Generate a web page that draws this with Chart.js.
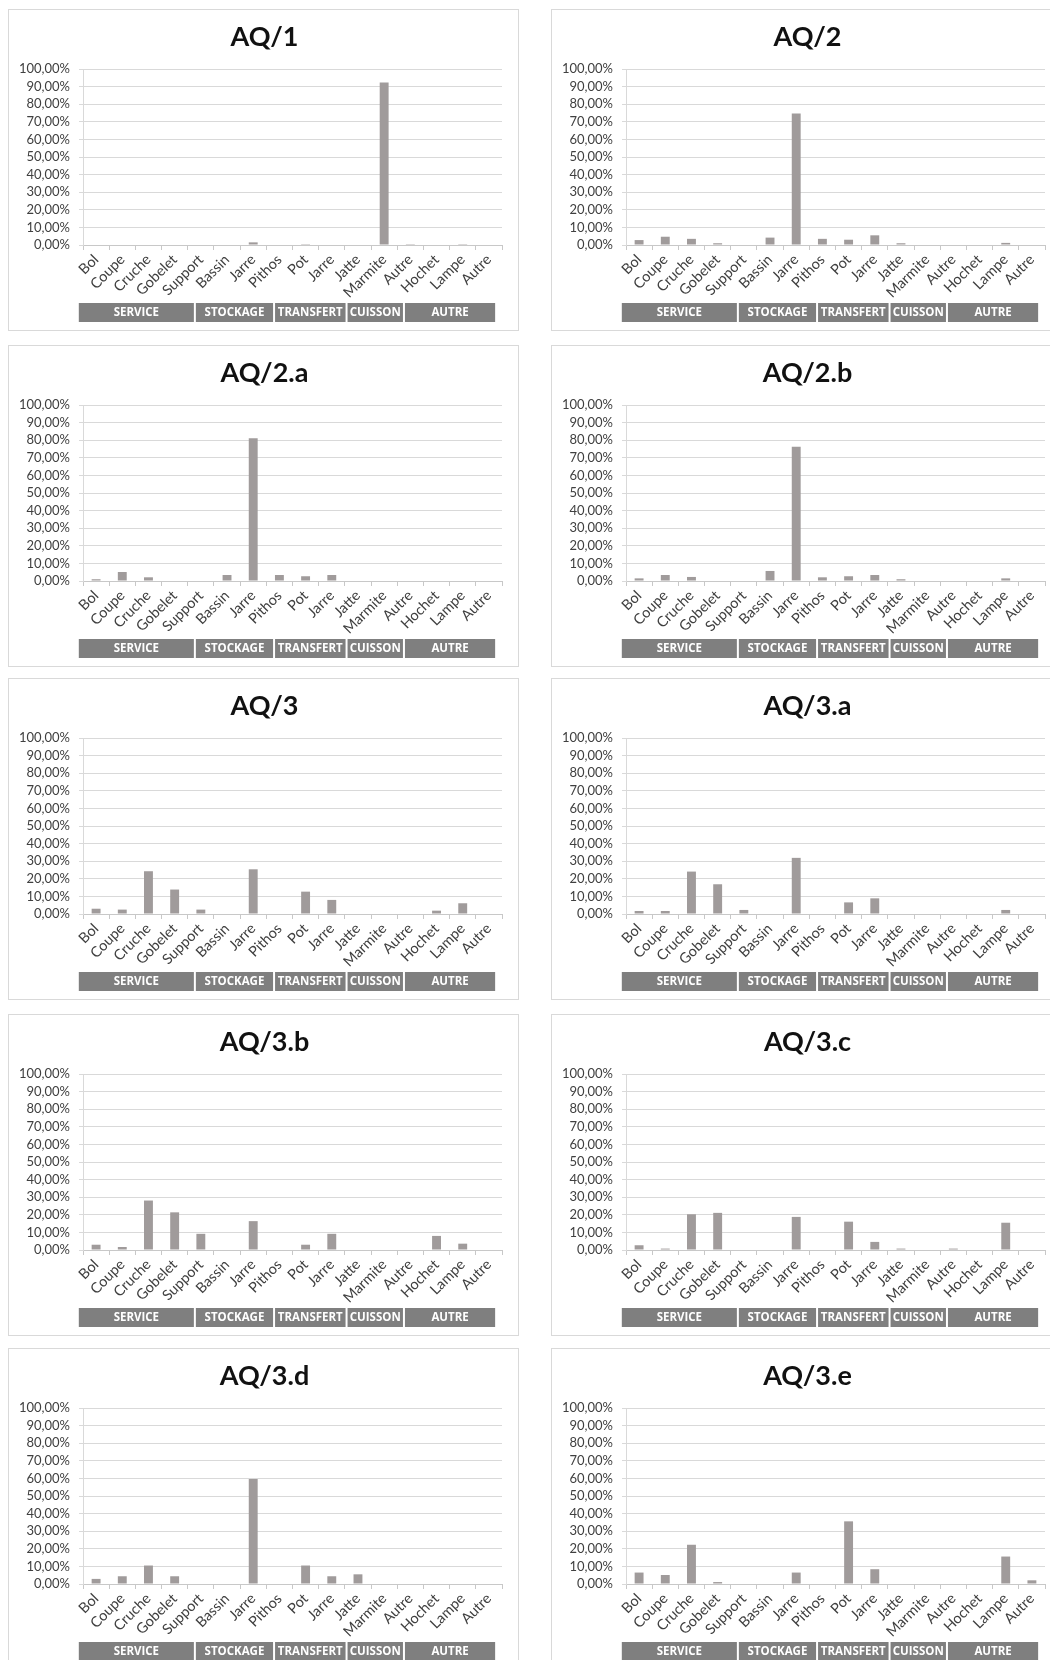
<!DOCTYPE html>
<html>
<head>
<meta charset="utf-8">
<script src="https://cdn.jsdelivr.net/npm/chart.js@4"></script>
<style>
    body { margin: 0; background: #fff; width: 1050px; height: 1660px; overflow: hidden; position: relative; }
    .panel { position: absolute; border: 1px solid #d9d9d9; background: #fff; }
    .panel canvas { display: block; }
</style>
</head>
<body>
<script>
// categories and groups (same for every panel)
const categories = ['Bol', 'Coupe', 'Cruche', 'Gobelet', 'Support', 'Bassin', 'Jarre', 'Pithos', 'Pot', 'Jarre', 'Jatte', 'Marmite', 'Autre', 'Hochet', 'Lampe', 'Autre'];
const groupLabels = ['SERVICE', 'STOCKAGE', 'TRANSFERT', 'CUISSON', 'AUTRE'];
const yTickLabels = ['0,00%', '10,00%', '20,00%', '30,00%', '40,00%', '50,00%', '60,00%', '70,00%', '80,00%', '90,00%', '100,00%'];

const titles = ['AQ/1', 'AQ/2', 'AQ/2.a', 'AQ/2.b', 'AQ/3', 'AQ/3.a', 'AQ/3.b', 'AQ/3.c', 'AQ/3.d', 'AQ/3.e'];

// values in %
const aq1  = [0, 0, 0, 0, 0, 0, 1.5, 0, 0.5, 0, 0, 92.4, 0.5, 0, 0.5, 0];
const aq2  = [2.8, 4.7, 3.5, 1.0, 0, 4.2, 74.7, 3.5, 3.0, 5.5, 1.0, 0, 0, 0, 1.2, 0];
const aq2a = [1.0, 5.1, 2.1, 0, 0, 3.4, 81.1, 3.4, 2.7, 3.4, 0, 0, 0, 0, 0, 0];
const aq2b = [1.5, 3.4, 2.3, 0, 0, 5.7, 76.3, 2.1, 2.7, 3.4, 1.0, 0, 0, 0, 1.5, 0];
const aq3  = [3.0, 2.5, 24.3, 13.9, 2.5, 0, 25.4, 0, 12.7, 8.0, 0, 0, 0, 1.9, 6.1, 0];
const aq3a = [1.7, 1.7, 24.1, 16.9, 2.3, 0, 31.9, 0, 6.6, 8.9, 0, 0, 0, 0, 2.3, 0];
const aq3b = [3.0, 1.7, 28.1, 21.4, 9.2, 0, 16.4, 0, 3.0, 9.2, 0, 0, 0, 8.0, 3.6, 0];
const aq3c = [2.7, 0.8, 20.3, 21.1, 0, 0, 18.8, 0, 16.1, 4.6, 0.8, 0, 0.8, 0, 15.5, 0];
const aq3d = [2.9, 4.4, 10.5, 4.4, 0, 0, 59.6, 0, 10.5, 4.4, 5.5, 0, 0, 0, 0, 0];
const aq3e = [6.5, 5.1, 22.3, 1.1, 0, 0, 6.5, 0, 35.6, 8.4, 0, 0, 0, 0, 15.6, 2.1];

const seriesList = [aq1, aq2, aq2a, aq2b, aq3, aq3a, aq3b, aq3c, aq3d, aq3e];

//---------------------------------------------------------------------------------------------------------------------------------------
// LAYOUT

const PANEL_W = 511;
const PANEL_H = 322;
const COL_X = [8, 551];
const ROW_Y = [9, 345, 678, 1014, 1348];
const BAND_TOP = 293;
const BAND_H = 19;
// group band edges, as fractions of the plot width
const BAND_EDGES = [-0.01, 0.267, 0.456, 0.629, 0.766, 0.986];

const BAR_COLOR = '#a09b9b';
const TEXT_COLOR = '#404040';

// draws the title and the grey group band under the labels
const panelDecor = {
    id: 'panelDecor',
    afterDraw(chart, args, opts) {
        const { ctx, chartArea } = chart;
        const w = chartArea.right - chartArea.left;
        ctx.save();

        ctx.fillStyle = '#111';
        ctx.font = 'bold 27px Lato';
        ctx.textAlign = 'center';
        ctx.textBaseline = 'middle';
        ctx.fillText(opts.title, chart.width / 2 + 1, 27);

        groupLabels.forEach((label, i) => {
            const x0 = chartArea.left + BAND_EDGES[i] * w + (i ? 1 : 0);
            const x1 = chartArea.left + BAND_EDGES[i + 1] * w - 1;
            ctx.fillStyle = '#7f7f7f';
            ctx.fillRect(x0, BAND_TOP, x1 - x0, BAND_H);
            ctx.fillStyle = '#fff';
            ctx.font = 'bold 11.5px "Open Sans"';
            ctx.fillText(label, (x0 + x1) / 2, BAND_TOP + BAND_H / 2 + 0.5);
        });
        ctx.restore();
    }
};

function createPanel(index) {
    const col = index % 2;
    const row = Math.floor(index / 2);

    const div = document.createElement('div');
    div.className = 'panel';
    div.style.left = COL_X[col] + 'px';
    div.style.top = ROW_Y[row] + 'px';
    div.style.width = (PANEL_W - 2) + 'px';
    div.style.height = (PANEL_H - 2) + 'px';

    const canvas = document.createElement('canvas');
    canvas.width = PANEL_W - 2;
    canvas.height = PANEL_H - 2;
    div.appendChild(canvas);
    document.body.appendChild(div);

    new Chart(canvas.getContext('2d'), {
        type: 'bar',
        data: {
            labels: categories,
            datasets: [{
                data: seriesList[index],
                backgroundColor: BAR_COLOR,
                borderWidth: 0,
                barPercentage: 0.34,
                categoryPercentage: 1
            }]
        },
        options: {
            responsive: false,
            animation: false,
            layout: { padding: { top: 59, right: 16, bottom: 0, left: 0 } },
            scales: {
                x: {
                    afterFit: scale => { scale.height = 85; },
                    grid: { drawOnChartArea: false, drawTicks: true, tickLength: 5, offset: true, color: '#c8c8c8' },
                    border: { display: true, color: '#c8c8c8' },
                    ticks: {
                        autoSkip: false,
                        minRotation: 45,
                        maxRotation: 45,
                        padding: 1,
                        color: TEXT_COLOR,
                        font: { family: 'Lato', size: 14.5 }
                    }
                },
                y: {
                    min: 0,
                    max: 100,
                    afterFit: scale => { scale.width = 74; },
                    grid: { color: '#d9d9d9', drawTicks: true, tickLength: 4 },
                    border: { display: true, color: '#d9d9d9' },
                    ticks: {
                        stepSize: 10,
                        autoSkip: false,
                        padding: 9,
                        color: TEXT_COLOR,
                        font: { family: 'Lato', size: 13 },
                        callback: (value, i) => yTickLabels[i]
                    }
                }
            },
            plugins: {
                legend: { display: false },
                tooltip: { enabled: false },
                panelDecor: { title: titles[index] }
            }
        },
        plugins: [panelDecor]
    });
}

for (let i = 0; i < titles.length; i++) {
    createPanel(i);
}
</script>
</body>
</html>
